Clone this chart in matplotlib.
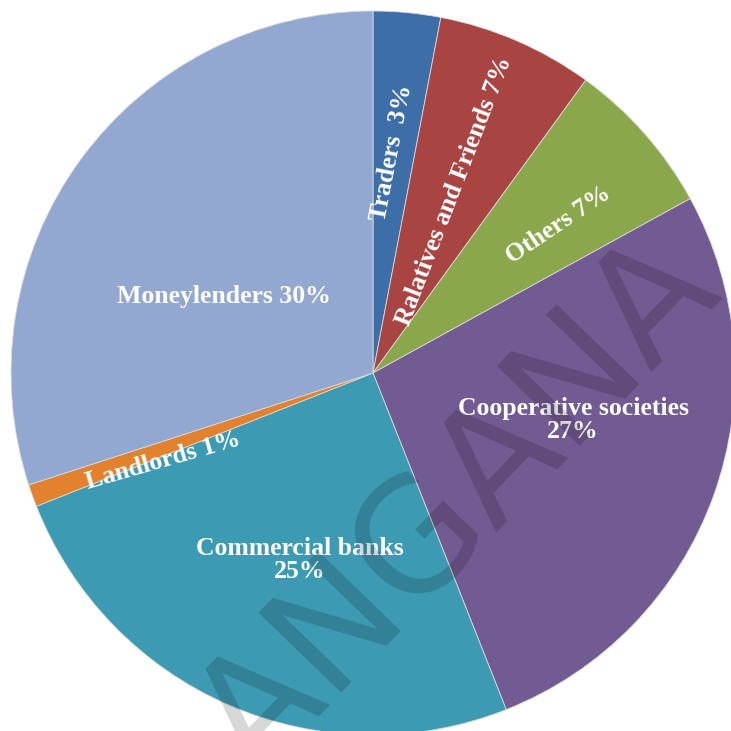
import matplotlib
matplotlib.use("Agg")
import matplotlib.pyplot as plt

# sources of rural credit (%)
sources = ["Traders", "Relatives and Friends", "Others", "Cooperative societies",
           "Commercial banks", "Landlords", "Moneylenders"]
shares = [3, 7, 7, 27, 25, 1, 30]
labels = ["Traders  3%", "Ralatives and Friends 7%", "Others 7%",
          "Cooperative societies\n27%", "Commercial banks\n25%",
          "Landlords 1%", "Moneylenders 30%"]
colors = ["#3D6EA7", "#A84442", "#8BA74C", "#725A92", "#3C9AB2", "#E2822F", "#92A8D0"]

# label placement in pixels: (x, y from top, rotation)
label_pos = [(392, 153, 79), (454, 191, 69), (558, 225, 34), (573, 420, 0),
             (300, 560, 0), (163, 461, 16), (224, 296, 0)]

W = 731
fig = plt.figure(figsize=(7.31, 7.31), dpi=100)
ax = fig.add_axes([0, 0, 1, 1])

ax.pie(shares, colors=colors, startangle=90, counterclock=False,
       center=(373, W - 373), radius=362, frame=True,
       wedgeprops=dict(edgecolor="#d9d9d9", linewidth=0.6))
ax.set_xlim(0, W)
ax.set_ylim(0, W)
ax.set_aspect("equal")
ax.axis("off")

for lab, (x, y, rot) in zip(labels, label_pos):
    ax.text(x, W - y, lab, color="white", fontsize=18.5, fontweight="bold",
            family="Liberation Serif", ha="center", va="center", rotation=rot,
            rotation_mode="anchor", linespacing=0.95, multialignment="center")

# faint watermark across the chart
ax.text(362, W - 610, "TELANGANA", color="black", alpha=0.16, fontsize=112,
        family="DejaVu Sans", ha="center", va="center", rotation=46,
        rotation_mode="anchor", zorder=5)

fig.savefig("out.png", dpi=100)
